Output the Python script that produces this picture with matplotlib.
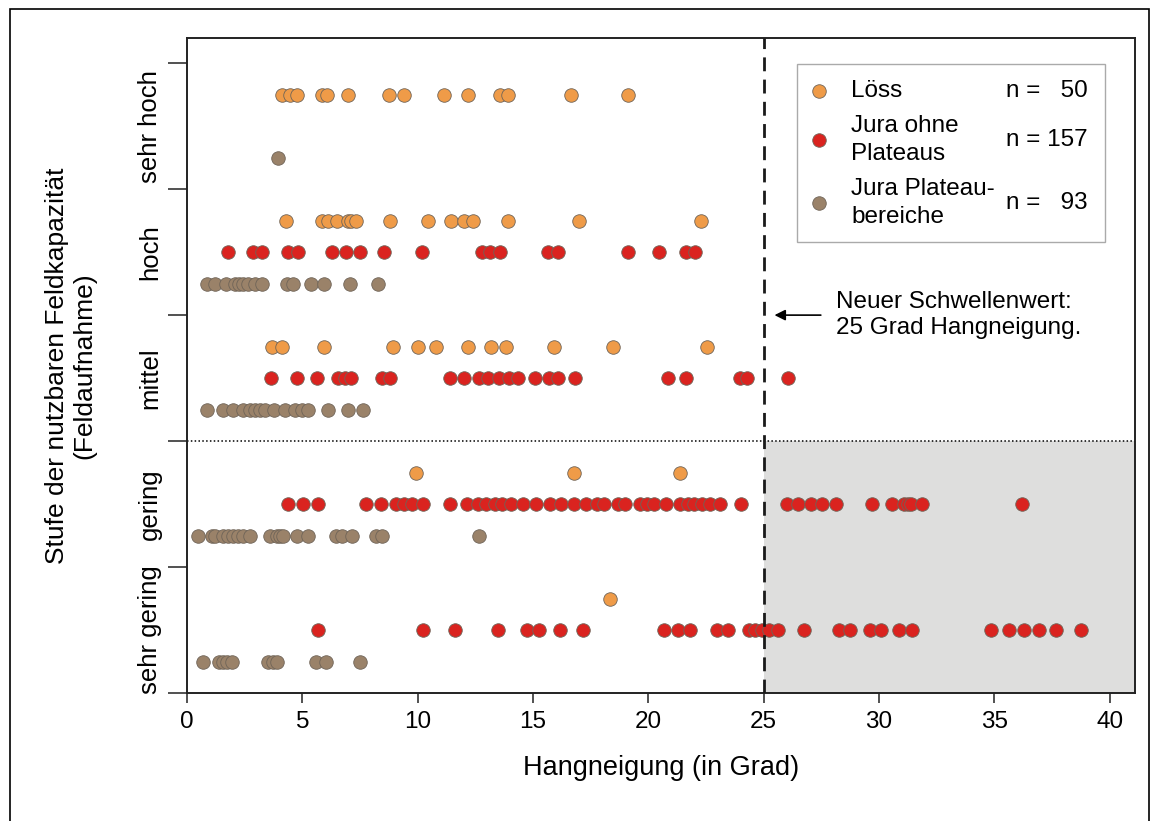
import matplotlib
matplotlib.use("Agg")
import matplotlib.pyplot as plt
from matplotlib.patches import Rectangle

plt.rcParams['font.family'] = ['Liberation Sans', 'DejaVu Sans']

# Stufen der nutzbaren Feldkapazität (unten -> oben)
levels = ["sehr gering", "gering", "mittel", "hoch", "sehr hoch"]

# Hangneigung (Grad) je Stufe
loess_sehr_gering = [18.35]
loess_gering = [9.92, 16.79, 21.36]
loess_mittel = [3.70, 4.11, 5.95, 8.95, 10.03, 10.79, 12.20, 13.19, 13.83, 15.89, 18.47, 22.55]
loess_hoch = [4.30, 5.84, 6.13, 6.49, 6.96, 7.10, 7.33, 8.78, 10.47, 11.44, 11.99, 12.42,
              13.90, 16.98, 22.27]
loess_sehr_hoch = [4.11, 4.47, 4.76, 5.84, 6.06, 6.97, 8.76, 9.39, 11.14, 12.20, 13.55,
                   13.91, 16.66, 19.12]

jura_sehr_gering = [5.70, 10.21, 11.63, 13.50, 14.74, 15.24, 16.15, 17.15, 20.67, 21.29,
                    21.82, 22.98, 23.44, 24.35, 24.64, 24.93, 25.22, 25.63, 26.74, 28.26,
                    28.73, 29.59, 30.07, 30.86, 31.45, 34.84, 35.63, 36.28, 36.93, 37.66,
                    38.77]
jura_gering = [4.40, 5.02, 5.67, 7.77, 8.39, 9.07, 9.41, 9.77, 10.23, 11.42, 12.16, 12.61,
               12.97, 13.36, 13.65, 14.06, 14.56, 15.14, 15.72, 16.23, 16.79, 17.30, 17.77,
               18.09, 18.67, 19.00, 19.65, 19.94, 20.26, 20.77, 21.39, 21.70, 21.96, 22.34,
               22.69, 23.12, 24.03, 26.02, 26.50, 27.06, 27.53, 28.14, 29.70, 30.57, 31.08,
               31.25, 31.41, 31.87, 36.18]
jura_mittel = [3.63, 4.76, 5.63, 6.56, 6.85, 7.11, 8.45, 8.81, 11.41, 12.03, 12.64, 13.05,
               13.51, 13.94, 14.35, 15.10, 15.68, 16.08, 16.80, 20.85, 21.64, 23.96, 24.28,
               26.06]
jura_hoch = [1.79, 2.88, 3.24, 4.40, 4.83, 6.28, 6.90, 7.48, 8.52, 10.20, 12.79, 13.15,
             13.55, 15.65, 16.07, 19.12, 20.45, 21.64, 22.04]

plat_sehr_gering = [0.68, 1.40, 1.58, 1.75, 1.94, 3.53, 3.72, 3.92, 5.60, 6.02, 7.51]
plat_gering = [0.49, 1.07, 1.21, 1.58, 1.79, 2.01, 2.23, 2.44, 2.73, 3.60, 3.89, 4.03,
               4.18, 4.76, 5.26, 6.46, 6.71, 7.15, 8.20, 8.45, 12.68]
plat_mittel = [0.85, 1.55, 1.98, 2.44, 2.73, 2.95, 3.17, 3.38, 3.79, 4.25, 4.69, 4.98,
               5.26, 6.10, 6.97, 7.61]
plat_hoch = [0.85, 1.21, 1.69, 2.08, 2.27, 2.44, 2.66, 2.95, 3.27, 4.33, 4.59, 5.37,
             5.94, 7.07, 8.27]
plat_sehr_hoch = [3.93]

series_names = ["Löss", "Jura ohne\nPlateaus", "Jura Plateau-\nbereiche"]
series_n = [50, 157, 93]

threshold = 25

# ---- Darstellung ----
colors = ["#EF9B48", "#DA231F", "#9A8269"]
offsets = [0.75, 0.5, 0.25]
series = [
    [loess_sehr_gering, loess_gering, loess_mittel, loess_hoch, loess_sehr_hoch],
    [jura_sehr_gering, jura_gering, jura_mittel, jura_hoch, []],
    [plat_sehr_gering, plat_gering, plat_mittel, plat_hoch, plat_sehr_hoch],
]

fig = plt.figure(figsize=(11.59, 8.21), dpi=100)
ax = fig.add_axes([187 / 1159, 1 - 693 / 821, 948 / 1159, 655 / 821])

xmax = 41.1
ax.add_patch(Rectangle((threshold, 0), xmax - threshold, 2, facecolor="#DEDEDD",
                       edgecolor="none", zorder=0))
ax.axhline(2, color="black", lw=1.1, ls=(0, (1, 1.5)), zorder=1)

for s, col, off in zip(series, colors, offsets):
    for i, xs in enumerate(s):
        ax.scatter(xs, [i + off] * len(xs), s=95, color=col, edgecolor="#6f6458",
                   linewidths=0.6, zorder=3)

ax.axvline(threshold, color="#1a1a1a", lw=2, ls=(0, (5, 3)), zorder=4)

ax.annotate("", xy=(threshold + 0.35, 3.0), xytext=(27.6, 3.0),
            arrowprops=dict(arrowstyle="-|>", color="black", lw=1.2,
                            mutation_scale=16), zorder=5)
ax.text(28.15, 3.0, "Neuer Schwellenwert:\n25 Grad Hangneigung.", ha="left",
        va="center", fontsize=17.5, linespacing=1.25)

ax.set_xlim(0, xmax)
ax.set_ylim(0, 5.2)
ax.set_xticks(range(0, 41, 5))
ax.tick_params(axis="x", labelsize=17.5, length=7, width=1.2, color="#333333", pad=6)
ax.set_yticks(range(0, 6))
ax.set_yticklabels([])
ax.tick_params(axis="y", which="major", length=14, width=1.2, color="#333333")
ax.set_yticks([i + 0.5 for i in range(5)], minor=True)
ax.set_yticklabels(levels, minor=True, rotation=90, va="center", fontsize=18.5)
ax.tick_params(axis="y", which="minor", length=0, pad=18)
for sp in ax.spines.values():
    sp.set_linewidth(1.4)
    sp.set_color("#222222")

ax.set_xlabel("Hangneigung (in Grad)", fontsize=19.5, labelpad=16)
ax.set_ylabel("Stufe der nutzbaren Feldkapazität\n(Feldaufnahme)", fontsize=19,
              labelpad=30, linespacing=1.2)

# Legende (manuell)
def axc(px, py):
    return (px - 187) / 948, (693 - py) / 655

lx0, ly0 = axc(797, 242)
lx1, ly1 = axc(1105, 64)
ax.add_patch(Rectangle((lx0, ly0), lx1 - lx0, ly1 - ly0, transform=ax.transAxes,
                       facecolor="white", edgecolor="#aaaaaa", lw=1.0, zorder=6))
for name, n, col, py in zip(series_names, series_n, colors, [91, 140, 203]):
    mx, my = axc(819, py)
    ax.scatter([mx], [my], s=95, color=col, edgecolor="#6f6458", linewidths=0.6,
               transform=ax.transAxes, zorder=7, clip_on=False)
    tx, _ = axc(851, py)
    ax.text(tx, my, name, transform=ax.transAxes, ha="left", va="center",
            fontsize=17.5, linespacing=1.3, zorder=7)
    nx, _ = axc(1088, py)
    ntxt = "n = %d" % n if n >= 100 else "n =   %d" % n
    ax.text(nx, my, ntxt, transform=ax.transAxes, ha="right", va="center",
            fontsize=17.5, zorder=7)

# Rahmen um die Abbildung
fig.patches.append(Rectangle((10 / 1159, -0.01), 1139 / 1159, 1 - 9 / 821 + 0.01,
                             transform=fig.transFigure, fill=False,
                             edgecolor="black", lw=1.2))

fig.savefig("out.png", dpi=100)
